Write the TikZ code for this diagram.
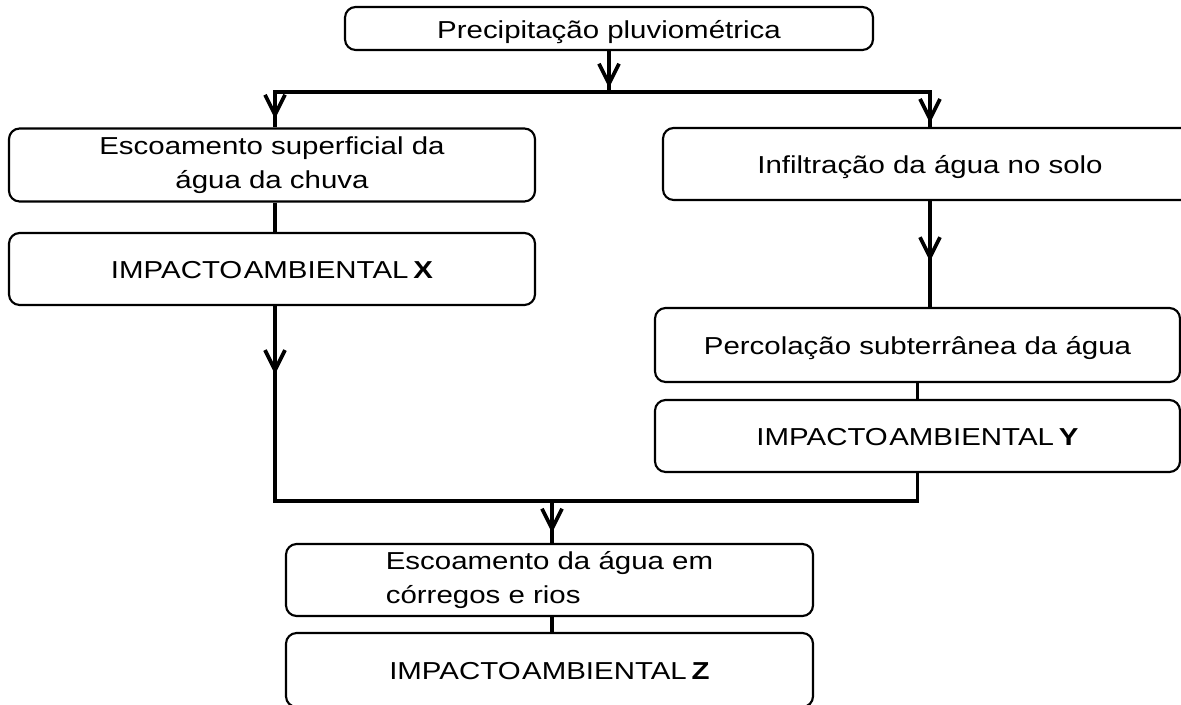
\documentclass[tikz,border=0pt]{standalone}
\usepackage{fontspec}
\setmainfont{Liberation Sans}[FakeStretch=1.2]
\usetikzlibrary{arrows.meta,decorations.markings}

\newcommand{\impacto}[1]{IMPACTO\hspace{0.06em}AMBIENTAL\hspace{0.2em}\textbf{#1}}

\begin{document}
\begin{tikzpicture}[x=0.75pt,y=0.75pt,yscale=-1,xscale=1,
  box/.style={draw, line width=1.6pt, rounded corners=8pt, inner sep=0pt, align=center,
    font=\fontsize{18.4}{25.7}\selectfont},
  oneline/.style={text height=16.5pt, text depth=1.8pt},
  link/.style={line width=2.4pt},
  midtip/.style={postaction={decorate}, decoration={markings,
    mark=at position #1 with {\arrow{Straight Barb[length=15pt,width=15pt,line width=2.8pt]}}}}]
\useasboundingbox (0,0) rectangle (1181,705);

% Rounded Rect
\draw (609,28.5) node [box, oneline, minimum width=396pt, minimum height=32.25pt] (prec) {Precipitação pluviométrica};
% Rounded Rect
\draw (272,165) node [box, minimum width=394.5pt, minimum height=54.75pt] (esc) {Escoamento superficial da\\água da chuva};
% Rounded Rect
\draw (272,269) node [box, oneline, minimum width=394.5pt, minimum height=54pt] (impX) {\impacto{X}};
% Rounded Rect
\draw (930,164) node [box, oneline, minimum width=400.5pt, minimum height=54pt] (inf) {Infiltração da água no solo};
% Rounded Rect
\draw (917.5,345) node [box, oneline, minimum width=393.75pt, minimum height=55.5pt] (perc) {Percolação subterrânea da água};
% Rounded Rect
\draw (917.5,436) node [box, oneline, minimum width=393.75pt, minimum height=54pt] (impY) {\impacto{Y}};
% Rounded Rect
\draw (549.5,580) node [box, align=left, minimum width=395.25pt, minimum height=54pt] (rios) {Escoamento da água em\\córregos e rios};
% Rounded Rect
\draw (549.5,670) node [box, oneline, minimum width=395.25pt, minimum height=55.5pt] (impZ) {\impacto{Z}};

\coordinate (splitL) at (275,92);
\coordinate (splitR) at (930,92);
\coordinate (joinL) at (275,501);
\coordinate (joinM) at (552,501);

%Straight Lines
\draw [link, line cap=rect] (splitL) -- (splitR);
\draw [link, midtip=0.9] (prec.south) -- (prec.south |- splitL);
\draw [link, midtip=0.76] (splitL) -- (splitL |- esc.north);
\draw [link, midtip=0.89] (splitR) -- (inf.north);
%Straight Lines
\draw [link] (splitL |- esc.south) -- (splitL |- impX.north);
\draw [link, midtip=0.35] (splitL |- impX.south) -- (joinL);
%Straight Lines
\draw [link, midtip=0.57] (inf.south) -- (inf.south |- perc.north);
\draw [link] (perc.south) -- (impY.north);
\draw [link, line cap=rect] (impY.south) |- (joinL);
%Straight Lines
\draw [link, midtip=0.76] (joinM) -- (joinM |- rios.north);
\draw [link] (joinM |- rios.south) -- (joinM |- impZ.north);

\end{tikzpicture}
\end{document}
